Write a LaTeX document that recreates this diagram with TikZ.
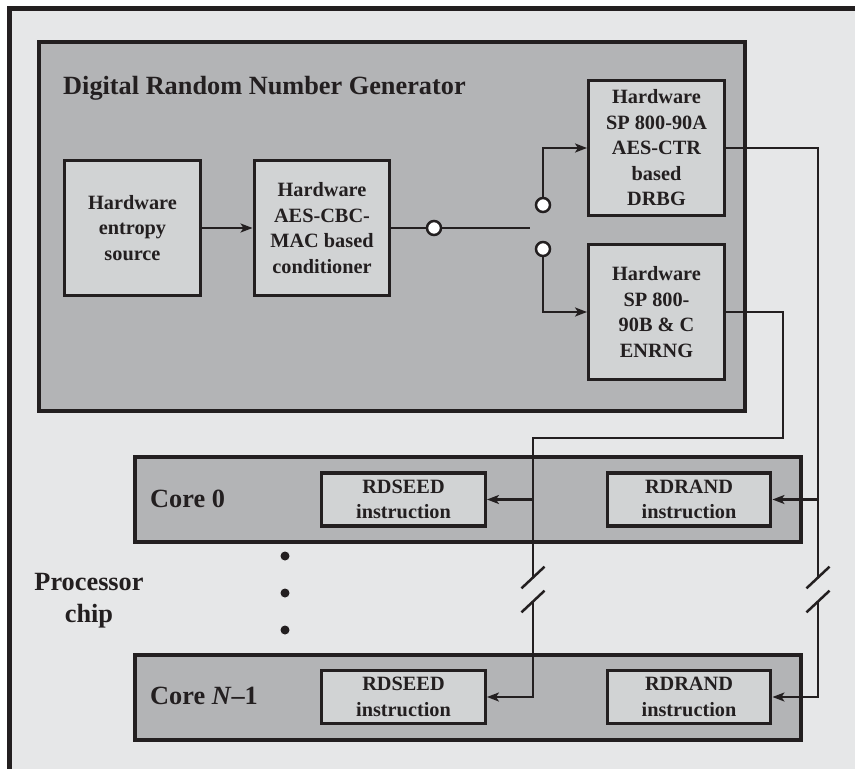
\documentclass[tikz,border=0pt]{standalone}
\usepackage{fontspec}
\setmainfont{Liberation Serif}
\usetikzlibrary{arrows.meta}
\definecolor{bgc}{HTML}{E6E7E8}
\definecolor{midc}{HTML}{B3B4B6}
\definecolor{inc}{HTML}{D1D3D4}
\definecolor{lnc}{HTML}{231F20}
\begin{document}
\begin{tikzpicture}[x=1pt,y=-1pt,
  bigbox/.style={draw=lnc, fill=midc, line width=4pt, inner sep=0pt},
  blk/.style={draw=lnc, fill=inc, line width=3.4pt, inner sep=0pt, align=center,
    font=\bfseries\fontsize{20.3}{25.5}\selectfont, text=lnc},
  lbl/.style={font=\bfseries\fontsize{26.3}{32}\selectfont, text=lnc, inner sep=0pt},
  conn/.style={draw=lnc, line width=2.5pt},
  thin/.style={draw=lnc, line width=2.2pt},
  arr/.style={conn, -{Stealth[length=12pt,width=9pt,inset=3pt]}},
  tarr/.style={thin, -{Stealth[length=12pt,width=9pt,inset=3pt]}},
  swc/.style={circle, draw=lnc, fill=white, line width=2.5pt, minimum size=14pt, inner sep=0pt},
  dotc/.style={circle, fill=lnc, minimum size=9pt, inner sep=0pt},
  brk/.style={draw=lnc, line width=2.5pt}]
\useasboundingbox (0,0) rectangle (855,769);
\fill[white] (0,0) rectangle (855,769);
\draw[line width=4.5pt, draw=lnc, fill=bgc] (9.5,8.5) rectangle (900,800);

% DRNG
\node[bigbox, minimum width=706pt, minimum height=369pt] (drng) at (392,226.5) {};
\node[lbl, anchor=base west] (title) at (63,94) {Digital Random Number Generator};
\node[blk, minimum width=135.5pt, minimum height=134.5pt] (ent) at (132.5,228) {Hardware\\entropy\\source};
\node[blk, minimum width=135.5pt, minimum height=134.5pt] (cond) at (322,228) {Hardware\\AES-CBC-\\MAC based\\conditioner};
\node[blk, minimum width=135.5pt, minimum height=134.5pt] (drbg) at (656.5,148) {Hardware\\SP 800-90A\\AES-CTR\\based\\DRBG};
\node[blk, minimum width=135.5pt, minimum height=134.5pt] (enrng) at (656.5,312) {Hardware\\SP 800-\\90B \& C\\ENRNG};
\node[swc] (c1) at (434,228) {};
\node[swc] (c2) at (543,205) {};
\node[swc] (c3) at (543,249) {};
\coordinate (swend) at (530,228);

% cores
\node[bigbox, line width=3.6pt, minimum width=666pt, minimum height=85pt] (core0) at (468,499.5) {};
\node[bigbox, line width=3.6pt, minimum width=666pt, minimum height=85pt] (coreN) at (468,697.5) {};
\node[lbl, anchor=base west] (core0l) at (150,507) {Core 0};
\node[lbl, anchor=base west] (coreNl) at (150,704) {Core \textit{N}–1};
\node[blk, minimum width=163.5pt, minimum height=53pt] (rdseed0) at (403.5,499.5) {RDSEED\\instruction};
\node[blk, minimum width=163.5pt, minimum height=53pt] (rdrand0) at (689,499.5) {RDRAND\\instruction};
\node[blk, minimum width=163.5pt, minimum height=53pt] (rdseedN) at (403.5,697) {RDSEED\\instruction};
\node[blk, minimum width=163.5pt, minimum height=53pt] (rdrandN) at (689,697) {RDRAND\\instruction};
\node[lbl, align=center] (proc) at (89,601) {Processor\\chip};
\node[dotc] (d1) at (285,556) {};
\node[dotc] (d2) at (285,593) {};
\node[dotc] (d3) at (285,630) {};

% connectors inside DRNG
\draw[arr] (ent) -- (cond);
\draw[conn] (cond) -- (c1);
\draw[conn] (c1) -- (swend);
\draw[arr] (c2) |- (drbg);
\draw[arr] (c3) |- (enrng);

% DRBG output
\coordinate (ra) at (818,577.5);
\coordinate (rb) at (818,601.5);
\draw[thin] (drbg) -| (ra);
\draw[tarr] (rb) |- (rdrandN);
\draw[tarr] (rdrand0 -| ra) -- (rdrand0);

% ENRNG output
\coordinate (e1) at (783,438);
\coordinate (la) at (533,577.5);
\coordinate (lb) at (533,601.5);
\draw[thin] (enrng) -| (e1) -| (la);
\draw[tarr] (lb) |- (rdseedN);
\draw[tarr] (rdseed0 -| la) -- (rdseed0);

% break marks
\draw[brk] (la) ++(-11.5,10.8) -- ++(23,-21.6);
\draw[brk] (lb) ++(-11.5,10.8) -- ++(23,-21.6);
\draw[brk] (ra) ++(-11.5,10.8) -- ++(23,-21.6);
\draw[brk] (rb) ++(-11.5,10.8) -- ++(23,-21.6);
\end{tikzpicture}
\end{document}
